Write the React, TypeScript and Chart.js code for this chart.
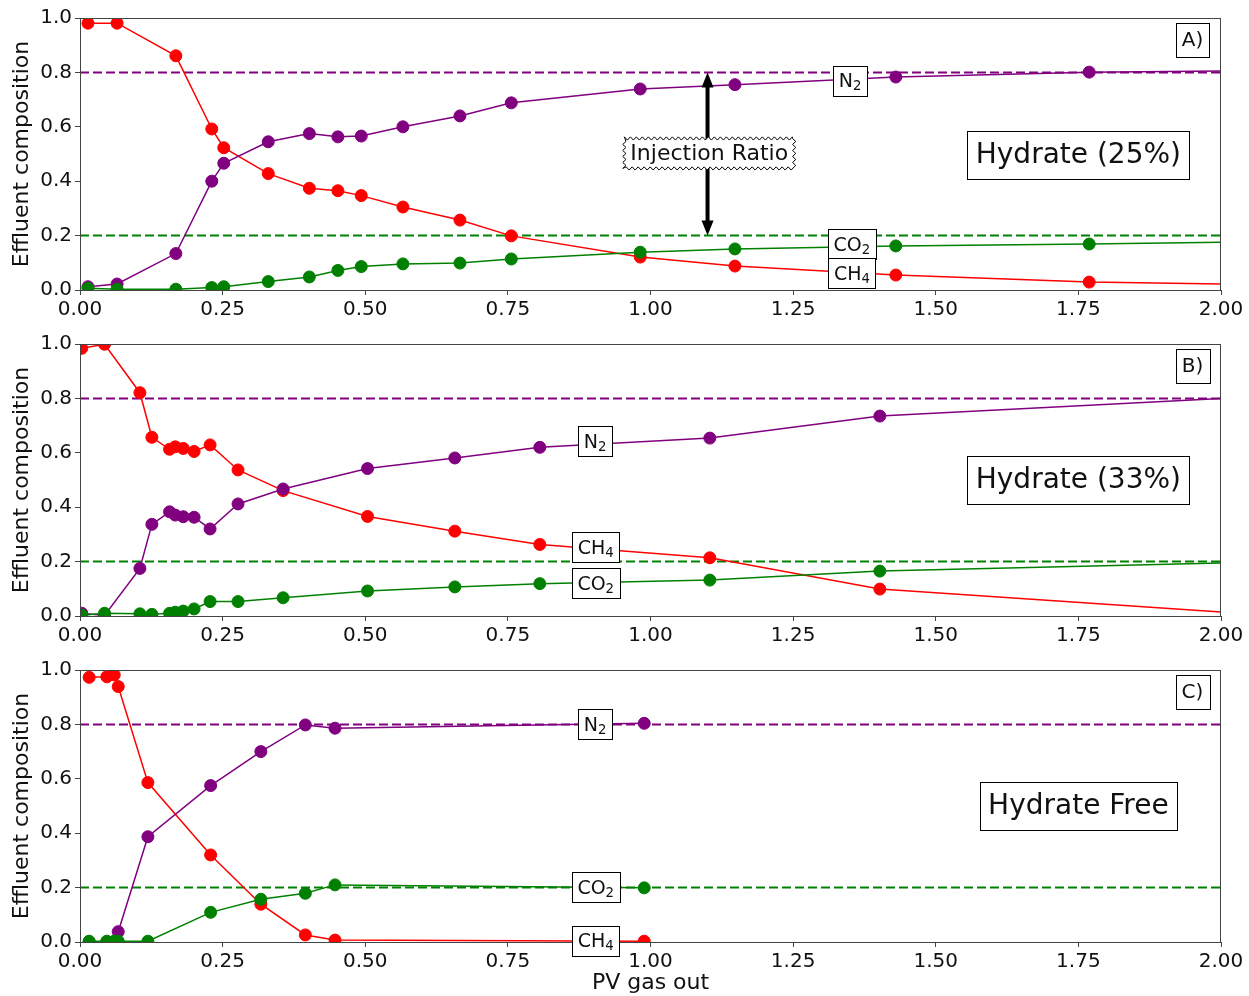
import React, { useEffect, useRef } from "react";
import { Chart, registerables } from "chart.js";
Chart.register(...registerables);

const FONT = "'DejaVu Sans', 'Liberation Sans', sans-serif";
const RED = "#ff0000";
const PURPLE = "#800080";
const GREEN = "#008000";

// ---------- Panel A: Hydrate (25%) ----------
const pvA = [0.014, 0.065, 0.168, 0.231, 0.252, 0.33, 0.402, 0.452, 0.493, 0.566, 0.666, 0.756, 0.982, 1.148, 1.43, 1.769, 2.0];
const ch4A = [0.981, 0.981, 0.861, 0.592, 0.523, 0.428, 0.374, 0.365, 0.347, 0.305, 0.257, 0.199, 0.121, 0.088, 0.055, 0.029, 0.022];
const n2A = [0.012, 0.022, 0.134, 0.4, 0.466, 0.545, 0.575, 0.563, 0.566, 0.6, 0.64, 0.688, 0.739, 0.755, 0.783, 0.801, 0.805];
const co2A = [0.006, 0.003, 0.003, 0.009, 0.012, 0.031, 0.048, 0.072, 0.086, 0.096, 0.099, 0.114, 0.139, 0.151, 0.162, 0.169, 0.176];

// ---------- Panel B: Hydrate (33%) ----------
const pvB = [0.003, 0.043, 0.105, 0.126, 0.157, 0.167, 0.181, 0.2, 0.228, 0.277, 0.356, 0.504, 0.657, 0.806, 1.104, 1.402, 2.0];
const ch4B = [0.984, 0.999, 0.821, 0.657, 0.613, 0.622, 0.616, 0.605, 0.629, 0.537, 0.461, 0.366, 0.312, 0.263, 0.214, 0.099, 0.015];
const n2B = [0.01, 0.002, 0.175, 0.337, 0.383, 0.371, 0.365, 0.363, 0.32, 0.412, 0.467, 0.542, 0.581, 0.62, 0.654, 0.735, 0.8];
const co2B = [0.003, 0.01, 0.008, 0.006, 0.01, 0.014, 0.018, 0.026, 0.053, 0.053, 0.067, 0.092, 0.107, 0.119, 0.132, 0.165, 0.195];

// ---------- Panel C: Hydrate Free ----------
const pvC = [0.016, 0.047, 0.06, 0.067, 0.119, 0.229, 0.317, 0.395, 0.447, 0.989];
const ch4C = [0.973, 0.975, 0.982, 0.939, 0.586, 0.32, 0.139, 0.026, 0.007, 0.003];
const n2C = [0.0, 0.0, 0.0, 0.038, 0.387, 0.575, 0.7, 0.798, 0.786, 0.804];
const co2C = [0.003, 0.003, 0.003, 0.003, 0.003, 0.109, 0.157, 0.179, 0.21, 0.199];

// ---------- Injection ratio reference lines ----------
const refX = [0, 2];
const refN2 = [0.8, 0.8];
const refCO2 = [0.2, 0.2];

// ---------- Axes ----------
const xTicks = ["0.00", "0.25", "0.50", "0.75", "1.00", "1.25", "1.50", "1.75", "2.00"];
const yTicks = ["0.0", "0.2", "0.4", "0.6", "0.8", "1.0"];
const yTitle = "Effluent composition";
const xTitle = "PV gas out";

type Annot =
  | { type: "species"; main: string; sub: string; x: number; y: number }
  | { type: "label"; text: string; x: number; y: number; size: number }
  | { type: "wavy"; text: string; x: number; y: number; size: number }
  | { type: "arrow"; x: number; y1: number; y2: number };

const annotsA: Annot[] = [
  { type: "arrow", x: 1.1, y1: 0.2, y2: 0.8 },
  { type: "wavy", text: "Injection Ratio", x: 1.103, y: 0.502, size: 22 },
  { type: "species", main: "N", sub: "2", x: 1.35, y: 0.77 },
  { type: "species", main: "CO", sub: "2", x: 1.353, y: 0.169 },
  { type: "species", main: "CH", sub: "4", x: 1.353, y: 0.0625 },
  { type: "label", text: "A)", x: 1.95, y: 0.919, size: 20 },
  { type: "label", text: "Hydrate (25%)", x: 1.75, y: 0.498, size: 28 },
];
const annotsB: Annot[] = [
  { type: "species", main: "N", sub: "2", x: 0.903, y: 0.642 },
  { type: "species", main: "CH", sub: "4", x: 0.904, y: 0.252 },
  { type: "species", main: "CO", sub: "2", x: 0.904, y: 0.121 },
  { type: "label", text: "B)", x: 1.95, y: 0.919, size: 20 },
  { type: "label", text: "Hydrate (33%)", x: 1.75, y: 0.5, size: 28 },
];
const annotsC: Annot[] = [
  { type: "species", main: "N", sub: "2", x: 0.903, y: 0.801 },
  { type: "species", main: "CO", sub: "2", x: 0.904, y: 0.202 },
  { type: "species", main: "CH", sub: "4", x: 0.904, y: 0.004 },
  { type: "label", text: "C)", x: 1.95, y: 0.919, size: 20 },
  { type: "label", text: "Hydrate Free", x: 1.75, y: 0.502, size: 28 },
];

function series(xs: number[], ys: number[], color: string) {
  return {
    data: xs.map((x, i) => ({ x, y: ys[i] })),
    borderColor: color,
    backgroundColor: color,
    borderWidth: 1.5,
    pointRadius: (c: any) => (c.raw && c.raw.x >= 2 ? 0 : 6),
    pointBorderWidth: 1,
    pointBorderColor: color,
    pointBackgroundColor: color,
    tension: 0,
    clip: 0,
  };
}
function refLine(ys: number[], color: string) {
  return {
    data: refX.map((x, i) => ({ x, y: ys[i] })),
    borderColor: color,
    borderWidth: 2,
    borderDash: [9, 4],
    pointRadius: 0,
    clip: 0,
  };
}

function boxAt(ctx: CanvasRenderingContext2D, cx: number, cy: number, w: number, h: number) {
  const x0 = Math.round(cx - w / 2) + 0.5;
  const y0 = Math.round(cy - h / 2) + 0.5;
  ctx.fillStyle = "#fff";
  ctx.fillRect(x0, y0, Math.round(w), Math.round(h));
  ctx.strokeStyle = "#000";
  ctx.lineWidth = 1;
  ctx.strokeRect(x0, y0, Math.round(w), Math.round(h));
}

function wavyBox(ctx: CanvasRenderingContext2D, cx: number, cy: number, w: number, h: number) {
  const x0 = cx - w / 2, y0 = cy - h / 2, x1 = cx + w / 2, y1 = cy + h / 2;
  const a = 1.6, step = 3;
  const pts: [number, number][] = [];
  let k = 0;
  const add = (x: number, y: number, nx: number, ny: number) => {
    const s = k % 2 === 0 ? a : -a;
    pts.push([x + nx * s, y + ny * s]);
    k++;
  };
  for (let x = x0; x < x1; x += step) add(x, y0, 0, -1);
  for (let y = y0; y < y1; y += step) add(x1, y, 1, 0);
  for (let x = x1; x > x0; x -= step) add(x, y1, 0, 1);
  for (let y = y1; y > y0; y -= step) add(x0, y, -1, 0);
  ctx.beginPath();
  pts.forEach(([x, y], i) => (i === 0 ? ctx.moveTo(x, y) : ctx.lineTo(x, y)));
  ctx.closePath();
  ctx.fillStyle = "#fff";
  ctx.fill();
  ctx.strokeStyle = "#000";
  ctx.lineWidth = 1;
  ctx.stroke();
}

function drawAnnots(chart: any, annots: Annot[]) {
  const ctx: CanvasRenderingContext2D = chart.ctx;
  const xs = chart.scales.x, ys = chart.scales.y;
  ctx.save();
  for (const a of annots) {
    if (a.type === "arrow") {
      const px = xs.getPixelForValue(a.x);
      const pTop = ys.getPixelForValue(a.y2);
      const pBot = ys.getPixelForValue(a.y1);
      const hl = 15, hw = 6;
      ctx.strokeStyle = "#000";
      ctx.fillStyle = "#000";
      ctx.lineWidth = 4;
      ctx.beginPath();
      ctx.moveTo(px, pTop + hl - 1);
      ctx.lineTo(px, pBot - hl + 1);
      ctx.stroke();
      ctx.beginPath();
      ctx.moveTo(px, pTop);
      ctx.lineTo(px - hw, pTop + hl);
      ctx.lineTo(px + hw, pTop + hl);
      ctx.closePath();
      ctx.fill();
      ctx.beginPath();
      ctx.moveTo(px, pBot);
      ctx.lineTo(px - hw, pBot - hl);
      ctx.lineTo(px + hw, pBot - hl);
      ctx.closePath();
      ctx.fill();
    } else if (a.type === "species") {
      const cx = xs.getPixelForValue(a.x), cy = ys.getPixelForValue(a.y);
      const fs = 19, ss = 13.3;
      ctx.font = `${fs}px ${FONT}`;
      const mw = ctx.measureText(a.main).width;
      ctx.font = `${ss}px ${FONT}`;
      const sw = ctx.measureText(a.sub).width;
      const tw = mw + sw;
      boxAt(ctx, cx, cy, tw + 11, 30);
      ctx.fillStyle = "#111";
      ctx.textBaseline = "alphabetic";
      ctx.textAlign = "left";
      ctx.font = `${fs}px ${FONT}`;
      const base = cy + 6.5;
      ctx.fillText(a.main, cx - tw / 2, base);
      ctx.font = `${ss}px ${FONT}`;
      ctx.fillText(a.sub, cx - tw / 2 + mw, base + 3);
    } else if (a.type === "label") {
      const cx = xs.getPixelForValue(a.x), cy = ys.getPixelForValue(a.y);
      ctx.font = `${a.size}px ${FONT}`;
      const tw = ctx.measureText(a.text).width;
      const pad = 0.3 * a.size;
      boxAt(ctx, cx, cy, tw + 2 * pad, a.size * 1.1 + 2 * pad);
      ctx.fillStyle = "#111";
      ctx.textAlign = "center";
      ctx.textBaseline = "middle";
      ctx.fillText(a.text, cx, cy + 1);
    } else if (a.type === "wavy") {
      const cx = xs.getPixelForValue(a.x), cy = ys.getPixelForValue(a.y);
      ctx.font = `${a.size}px ${FONT}`;
      const tw = ctx.measureText(a.text).width;
      wavyBox(ctx, cx, cy, tw + 12, 30);
      ctx.fillStyle = "#111";
      ctx.textAlign = "center";
      ctx.textBaseline = "middle";
      ctx.fillText(a.text, cx, cy + 1);
    }
  }
  ctx.restore();
}

type PanelSpec = {
  top: number;
  height: number;
  xAxisH: number;
  showXTitle: boolean;
  pv: number[];
  ch4: number[];
  n2: number[];
  co2: number[];
  annots: Annot[];
};

const panels: PanelSpec[] = [
  { top: 0, height: 326, xAxisH: 36, showXTitle: false, pv: pvA, ch4: ch4A, n2: n2A, co2: co2A, annots: annotsA },
  { top: 326, height: 326, xAxisH: 36, showXTitle: false, pv: pvB, ch4: ch4B, n2: n2B, co2: co2B, annots: annotsB },
  { top: 652, height: 344, xAxisH: 54, showXTitle: true, pv: pvC, ch4: ch4C, n2: n2C, co2: co2C, annots: annotsC },
];

function Panel({ spec }: { spec: PanelSpec }) {
  const ref = useRef<HTMLCanvasElement | null>(null);
  useEffect(() => {
    if (!ref.current) return;
    const framePlugin = {
      id: "frame",
      afterDatasetsDraw(chart: any) {
        const { ctx, chartArea: c } = chart;
        ctx.save();
        ctx.strokeStyle = "#444";
        ctx.lineWidth = 1;
        ctx.strokeRect(Math.round(c.left) + 0.5, Math.round(c.top) + 0.5, Math.round(c.right - c.left) - 1, Math.round(c.bottom - c.top));
        ctx.restore();
      },
      afterDraw(chart: any) {
        drawAnnots(chart, spec.annots);
      },
    };
    const chart = new Chart(ref.current, {
      type: "line",
      data: {
        datasets: [
          series(spec.pv, spec.co2, GREEN),
          series(spec.pv, spec.n2, PURPLE),
          series(spec.pv, spec.ch4, RED),
          refLine(refN2, PURPLE),
          refLine(refCO2, GREEN),
        ] as any,
      },
      options: {
        animation: false,
        responsive: false,
        events: [],
        layout: { padding: { left: 0, right: 28, top: 18, bottom: 0 } },
        plugins: { legend: { display: false }, tooltip: { enabled: false } },
        scales: {
          x: {
            type: "linear",
            min: 0,
            max: 2,
            afterFit: (s: any) => {
              s.height = spec.xAxisH;
            },
            afterBuildTicks: (s: any) => {
              s.ticks = xTicks.map((t) => ({ value: parseFloat(t) }));
            },
            ticks: {
              callback: (v: any) => xTicks.find((t) => Math.abs(parseFloat(t) - Number(v)) < 1e-6) ?? "",
              font: { family: FONT, size: 20 },
              color: "#111",
              padding: 3,
              maxRotation: 0,
              autoSkip: false,
            },
            grid: { drawOnChartArea: false, drawTicks: true, tickLength: 5, color: "#444" },
            border: { display: false },
            title: {
              display: spec.showXTitle,
              text: xTitle,
              font: { family: FONT, size: 22 },
              color: "#111",
              padding: { top: 0, bottom: 0 },
            },
          },
          y: {
            type: "linear",
            min: 0,
            max: 1,
            afterFit: (s: any) => {
              s.width = 80;
            },
            afterBuildTicks: (s: any) => {
              s.ticks = yTicks.map((t) => ({ value: parseFloat(t) }));
            },
            ticks: {
              callback: (v: any) => yTicks.find((t) => Math.abs(parseFloat(t) - Number(v)) < 1e-6) ?? "",
              font: { family: FONT, size: 20 },
              color: "#111",
              padding: 3,
              autoSkip: false,
            },
            grid: { drawOnChartArea: false, drawTicks: true, tickLength: 5, color: "#444" },
            border: { display: false },
            title: {
              display: true,
              text: yTitle,
              font: { family: FONT, size: 22 },
              color: "#111",
              padding: { top: 9, bottom: 4 },
            },
          },
        },
      } as any,
      plugins: [framePlugin],
    });
    return () => chart.destroy();
  }, [spec]);
  return (
    <canvas
      ref={ref}
      width={1249}
      height={spec.height}
      style={{ position: "absolute", left: 0, top: spec.top, width: 1249, height: spec.height, display: "block" }}
    />
  );
}

export default function App() {
  return (
    <div style={{ position: "absolute", left: 0, top: 0, width: 1249, height: 996, background: "#fff", overflow: "hidden" }}>
      {panels.map((p, i) => (
        <Panel key={i} spec={p} />
      ))}
    </div>
  );
}
